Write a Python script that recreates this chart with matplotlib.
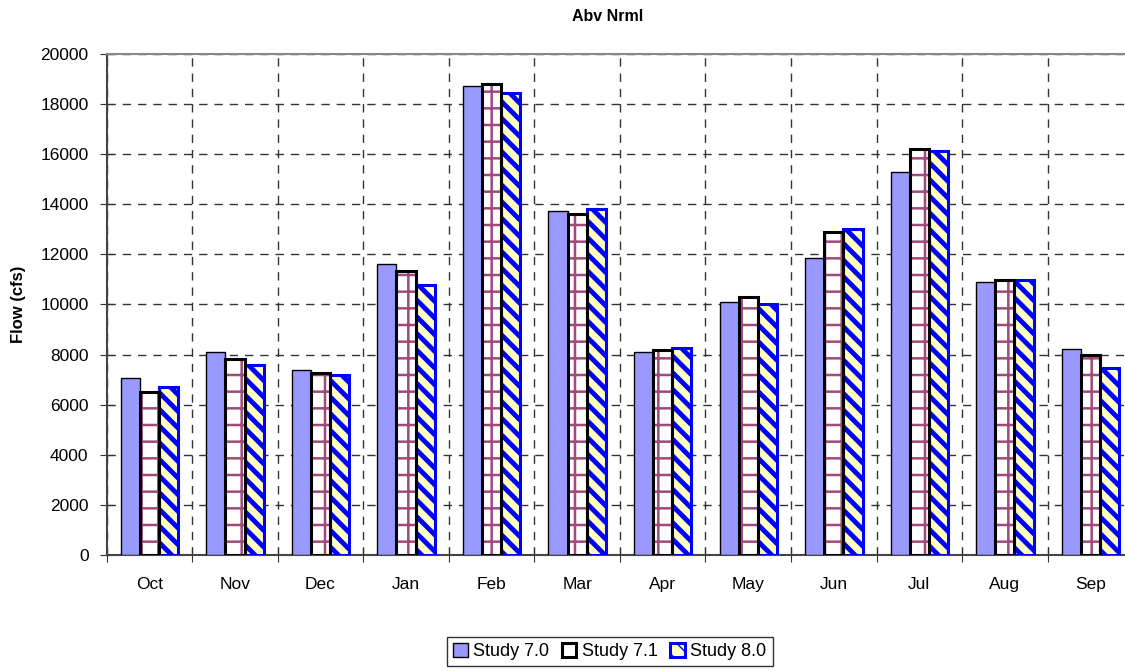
import matplotlib
matplotlib.use("Agg")
import matplotlib.pyplot as plt
import numpy as np

plt.rcParams['font.family'] = ['Liberation Sans', 'DejaVu Sans']

months = ['Oct', 'Nov', 'Dec', 'Jan', 'Feb', 'Mar', 'Apr', 'May', 'Jun', 'Jul', 'Aug', 'Sep']
study_70 = [7060, 8120, 7390, 11620, 18740, 13740, 8100, 10100, 11860, 15290, 10900, 8220]
study_71 = [6520, 7810, 7270, 11340, 18800, 13610, 8180, 10300, 12890, 16210, 10980, 7980]
study_80 = [6710, 7585, 7190, 10780, 18430, 13810, 8260, 10020, 13010, 16130, 10980, 7450]
series_names = ['Study 7.0', 'Study 7.1', 'Study 8.0']

fig = plt.figure(figsize=(11.25, 6.71), dpi=100)
# plot area runs past the right edge of the picture, like the original
ax = fig.add_axes([0.0948, 0.1729, 0.9125, 0.7466])

x = np.arange(len(months))
w = 0.224

# study 7.0 - plain lavender
b1 = ax.bar(x - w, study_70, w, color='#9999FF', edgecolor='black', linewidth=1.0, zorder=3)

# study 7.1 - white with maroon grid, black outline
with plt.rc_context({'hatch.linewidth': 1.8}):
    ax.bar(x, study_71, w, color='white', edgecolor='#A0497A', hatch='+', linewidth=0, zorder=3)
b2 = ax.bar(x, study_71, w, fill=False, edgecolor='black', linewidth=2.2, zorder=4)

# study 8.0 - light yellow with blue diagonal stripes
with plt.rc_context({'hatch.linewidth': 3.5}):
    b3 = ax.bar(x + w, study_80, w, color='#FFFFC0', edgecolor='#0000FF', hatch='\\\\',
                linewidth=2.2, zorder=3)

ax.set_xlim(-0.5, len(months) - 0.5)
ax.set_ylim(0, 20000)
ax.set_yticks(np.arange(0, 20001, 2000))
ax.set_xticks(np.arange(-0.5, len(months), 1.0))
ax.set_xticklabels([])
ax.set_xticks(x, minor=True)
ax.set_xticklabels(months, minor=True, fontsize=12.5)
ax.tick_params(axis='x', which='minor', length=0, pad=16)
ax.tick_params(axis='x', which='major', direction='inout', length=10, color='#333333')
ax.tick_params(axis='y', direction='inout', length=10, labelsize=12.5, pad=8, color='#333333')

ax.grid(True, which='major', linestyle=(0, (6, 5)), color='#333333', linewidth=1.0, zorder=0)

ax.spines['right'].set_visible(False)
ax.spines['top'].set_color('#888888')
ax.spines['top'].set_linewidth(1.5)
ax.spines['left'].set_color('#444444')
ax.spines['left'].set_linewidth(1.5)
ax.spines['bottom'].set_color('#444444')
ax.spines['bottom'].set_linewidth(1.5)

ax.set_ylabel('Flow (cfs)', fontsize=12, fontweight='bold', labelpad=10)
fig.text(0.54, 0.976, 'Abv Nrml', ha='center', va='center', fontsize=11.5, fontweight='bold')

leg = fig.legend([b1, b2, b3], series_names, loc='center', bbox_to_anchor=(0.542, 0.029),
                 ncol=3, fontsize=13, frameon=True, fancybox=False, edgecolor='black',
                 handlelength=0.8, handleheight=0.8, handletextpad=0.3, columnspacing=0.7,
                 borderpad=0.35)
leg.get_frame().set_linewidth(1.0)

fig.savefig('out.png', dpi=100)
